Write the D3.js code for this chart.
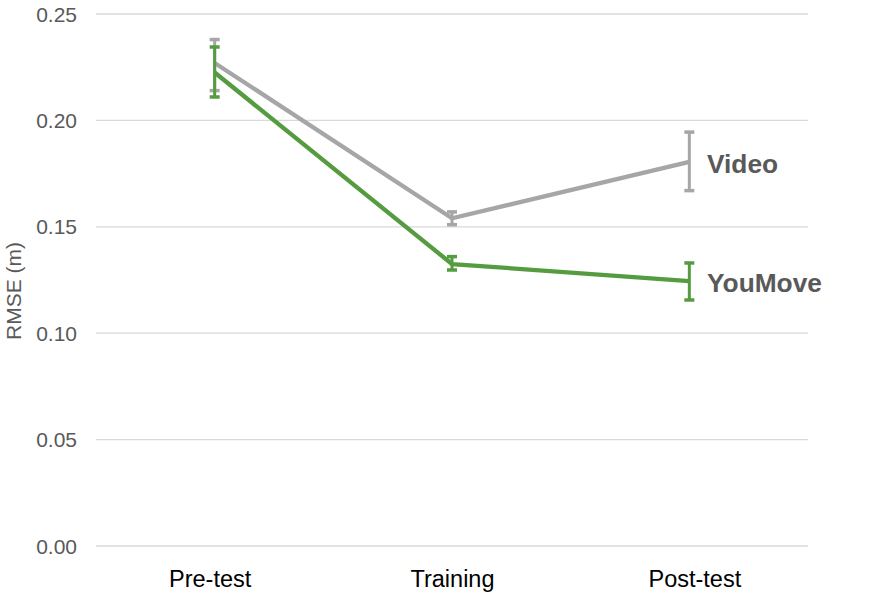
<!DOCTYPE html>
<html>
<head>
<meta charset="utf-8">
<script src="https://cdn.jsdelivr.net/npm/d3@7"></script>
<style>
  body { margin: 0; background: #fff; }
  text { font-family: "Liberation Sans", Arial, sans-serif; }
</style>
</head>
<body>
<svg id="chart" width="894" height="615"></svg>
<script>
var phases = ['Pre-test', 'Training', 'Post-test'];
var yTicks = [0, 0.05, 0.10, 0.15, 0.20, 0.25];

var videoMean = [0.227, 0.154, 0.1805];
var videoLow = [0.214, 0.151, 0.167];
var videoHigh = [0.238, 0.157, 0.1945];

var youMoveMean = [0.2225, 0.1325, 0.1245];
var youMoveLow = [0.211, 0.1297, 0.1156];
var youMoveHigh = [0.2345, 0.136, 0.133];

var series = [
  { name: 'Video', color: '#a6a6a6', mean: videoMean, low: videoLow, high: videoHigh },
  { name: 'YouMove', color: '#559b3f', mean: youMoveMean, low: youMoveLow, high: youMoveHigh }
];

var svg = d3.select('#chart'),
    plotLeft = 96, plotRight = 808, plotTop = 14, plotBottom = 546;

var x = d3.scaleBand().domain(phases).range([plotLeft, plotRight]);
// category labels sit on a slightly wider band than the points
var xLabel = d3.scaleBand().domain(phases).range([plotLeft - 7, plotRight + 8]);
var y = d3.scaleLinear().domain([0, 0.25]).range([plotBottom, plotTop]);

// grid + y labels
svg.append('g')
  .selectAll('line')
  .data(yTicks)
  .enter().append('line')
    .attr('x1', plotLeft).attr('x2', plotRight)
    .attr('y1', function(d) { return y(d); })
    .attr('y2', function(d) { return y(d); })
    .attr('stroke', '#d9d9d9')
    .attr('stroke-width', 1.3);

svg.append('g')
  .selectAll('text')
  .data(yTicks)
  .enter().append('text')
    .attr('x', 77)
    .attr('y', function(d) { return y(d) + 7.5; })
    .attr('text-anchor', 'end')
    .attr('fill', '#595959')
    .attr('font-size', 21)
    .text(function(d) { return d3.format('.2f')(d); });

svg.append('g')
  .selectAll('text')
  .data(phases)
  .enter().append('text')
    .attr('x', function(d) { return xLabel(d) + xLabel.bandwidth() / 2; })
    .attr('y', 587)
    .attr('text-anchor', 'middle')
    .attr('fill', '#000')
    .attr('font-size', 23.5)
    .text(function(d) { return d; });

svg.append('text')
  .attr('transform', 'translate(21,291) rotate(-90)')
  .attr('text-anchor', 'middle')
  .attr('fill', '#595959')
  .attr('font-size', 21)
  .text('RMSE (m)');

function cx(i) { return x(phases[i]) + x.bandwidth() / 2; }

var line = d3.line()
  .x(function(d, i) { return cx(i); })
  .y(function(d) { return y(d); });

series.forEach(function(s) {
  var g = svg.append('g');
  g.append('path')
    .attr('d', line(s.mean))
    .attr('fill', 'none')
    .attr('stroke', s.color)
    .attr('stroke-width', 4.3);

  s.mean.forEach(function(m, i) {
    var px = cx(i);
    g.append('line')
      .attr('x1', px).attr('x2', px)
      .attr('y1', y(s.low[i])).attr('y2', y(s.high[i]))
      .attr('stroke', s.color).attr('stroke-width', 3);
    [s.low[i], s.high[i]].forEach(function(v) {
      g.append('line')
        .attr('x1', px - 5).attr('x2', px + 5)
        .attr('y1', y(v)).attr('y2', y(v))
        .attr('stroke', s.color).attr('stroke-width', 3.5);
    });
  });

  g.append('text')
    .attr('x', 707)
    .attr('y', y(s.mean[2]) + 11)
    .attr('fill', '#595959')
    .attr('font-size', 26.3)
    .attr('font-weight', 'bold')
    .text(s.name);
});
</script>
</body>
</html>
